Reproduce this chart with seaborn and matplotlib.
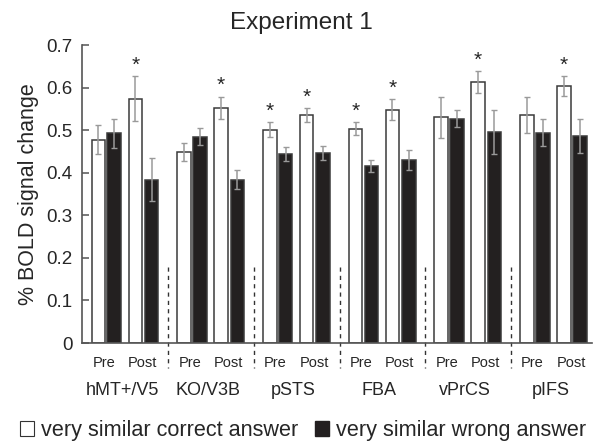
import numpy as np
import pandas as pd
import seaborn as sns
import matplotlib.pyplot as plt
from matplotlib.patches import Patch

# bar heights (% BOLD signal change)
regions = ["hMT+/V5", "KO/V3B", "pSTS", "FBA", "vPrCS", "pIFS"]
conditions = ["Pre correct", "Pre wrong", "Post correct", "Post wrong"]
pre_correct = [0.477, 0.448, 0.501, 0.503, 0.530, 0.536]
pre_wrong = [0.493, 0.485, 0.444, 0.415, 0.527, 0.494]
post_correct = [0.574, 0.553, 0.535, 0.548, 0.613, 0.604]
post_wrong = [0.384, 0.384, 0.446, 0.430, 0.496, 0.486]

# error bar half-lengths
pre_correct_err = [0.034, 0.021, 0.018, 0.015, 0.049, 0.042]
pre_wrong_err = [0.034, 0.021, 0.017, 0.014, 0.020, 0.032]
post_correct_err = [0.053, 0.026, 0.017, 0.025, 0.025, 0.024]
post_wrong_err = [0.051, 0.023, 0.016, 0.023, 0.052, 0.040]

# (region, condition) pairs marked with an asterisk
starred = [(0, 2), (1, 2), (2, 0), (2, 2), (3, 0), (3, 2), (4, 2), (5, 2)]

sns.set_style("ticks")
plt.rcParams['font.family'] = ['Liberation Sans', 'DejaVu Sans']

vals = [pre_correct, pre_wrong, post_correct, post_wrong]
errs = [pre_correct_err, pre_wrong_err, post_correct_err, post_wrong_err]
rows = []
for c, series in zip(conditions, vals):
    for r, v in zip(regions, series):
        rows.append({"region": r, "cond": c, "value": v})
df = pd.DataFrame(rows)

dark = "#231f20"
fig = plt.figure(figsize=(6.01, 4.43), dpi=100)
ax = fig.add_axes([0.1364, 0.2257, 0.8481, 0.6727])

sns.barplot(data=df, x="region", y="value", hue="cond", order=regions,
            hue_order=conditions, palette=["white", dark, "white", dark],
            edgecolor="#3a3a3a", linewidth=1.1, width=0.8, errorbar=None,
            legend=False, ax=ax)

# pair the bars: Pre bars together, Post bars together
offsets = [-0.315, -0.131, 0.115, 0.306]
bw = 0.158
for p in ax.patches:
    cx = p.get_x() + p.get_width() / 2
    gi = int(round(cx))
    k = int(round((cx - gi + 0.3) / 0.2))
    p.set_x(gi + offsets[k] - bw / 2)
    p.set_width(bw)

for k in range(4):
    xs = np.arange(len(regions)) + offsets[k]
    ax.errorbar(xs, vals[k], yerr=errs[k], fmt='none', ecolor='#9a9a9a',
                elinewidth=1.1, capsize=2.5, capthick=1.0, zorder=5)

for gi, k in starred:
    top = vals[k][gi] + errs[k][gi]
    ax.text(gi + offsets[k], top + 0.003, "*", ha='center', va='bottom',
            fontsize=15)

# group separators
for i in range(len(regions) - 1):
    ax.plot([i + 0.5, i + 0.5], [0.178, -0.058], ls=(0, (3, 3)), lw=1.0,
            color='#333333', clip_on=False, zorder=1)

for gi, r in enumerate(regions):
    ax.text(gi - 0.25, -0.047, "Pre", ha='center', va='center', fontsize=10.5)
    ax.text(gi + 0.2, -0.047, "Post", ha='center', va='center', fontsize=10.5)
    ax.text(gi - 0.04, -0.112, r, ha='center', va='center', fontsize=13)

ax.set_xlim(-0.507, 5.44)
ax.set_ylim(0, 0.7)
ax.set_xticks([])
ax.set_xlabel("")
ax.set_yticks(np.arange(0, 0.71, 0.1))
ax.set_yticklabels(["0", "0.1", "0.2", "0.3", "0.4", "0.5", "0.6", "0.7"])
ax.tick_params(axis='y', direction='in', length=5, width=1.1, color='#555555',
               labelsize=13.5, pad=7)
ax.set_ylabel("% BOLD signal change", fontsize=15.5, labelpad=5)
for s in ["top", "right"]:
    ax.spines[s].set_visible(False)
for s in ["left", "bottom"]:
    ax.spines[s].set_color('#555555')
    ax.spines[s].set_linewidth(1.2)

fig.text(0.502, 0.948, "Experiment 1", ha='center', va='center', fontsize=17.5)

handles = [Patch(facecolor='white', edgecolor='#333333', linewidth=0.8),
           Patch(facecolor=dark, edgecolor=dark)]
fig.legend(handles, ["very similar correct answer", "very similar wrong answer"],
           loc='center', bbox_to_anchor=(0.504, 0.028), ncol=2, frameon=False,
           fontsize=15.6, handlelength=0.66, handleheight=0.66, handletextpad=0.32,
           columnspacing=0.75, borderpad=0.1)

fig.savefig("out.png", dpi=100)
